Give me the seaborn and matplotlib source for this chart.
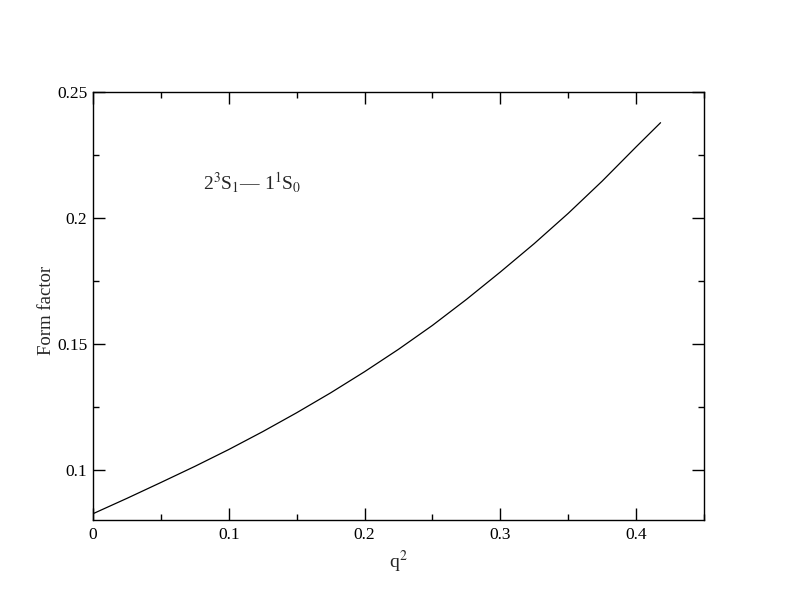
import numpy as np
import pandas as pd
import matplotlib
matplotlib.use("Agg")
import matplotlib.pyplot as plt
import seaborn as sns
from matplotlib.ticker import MultipleLocator, FuncFormatter

# -----------------------------
# Data
# -----------------------------

q2 = [0.0, 0.025, 0.05, 0.075, 0.1, 0.125, 0.15, 0.175, 0.2, 0.225,
      0.25, 0.275, 0.3, 0.325, 0.35, 0.375, 0.4, 0.418]
form_factor = [0.0825, 0.0886, 0.0949, 0.1013, 0.1080, 0.1151, 0.1226, 0.1305, 0.1389, 0.1478,
               0.1573, 0.1676, 0.1785, 0.1898, 0.2018, 0.2146, 0.2282, 0.2378]

df = pd.DataFrame({"q2": q2, "ff": form_factor})

# -----------------------------
# Style
# -----------------------------

sns.set_style("ticks")
plt.rcParams['font.family'] = ['Liberation Serif', 'DejaVu Serif']
plt.rcParams['mathtext.fontset'] = 'stix'

fig = plt.figure(figsize=(7.92, 6.12), dpi=100)
ax = fig.add_axes([0.1174, 0.1503, 0.7715, 0.6994])

sns.lineplot(data=df, x="q2", y="ff", color="black", linewidth=0.9, ax=ax)

ax.set_xlim(0, 0.45)
ax.set_ylim(0.08, 0.25)

ax.xaxis.set_major_locator(MultipleLocator(0.1))
ax.xaxis.set_minor_locator(MultipleLocator(0.05))
ax.yaxis.set_major_locator(MultipleLocator(0.05))
ax.yaxis.set_minor_locator(MultipleLocator(0.025))
ax.xaxis.set_major_formatter(FuncFormatter(lambda v, p: "0" if abs(v) < 1e-9 else f"{v:g}"))
ax.yaxis.set_major_formatter(FuncFormatter(lambda v, p: f"{v:g}"))

ax.tick_params(which="both", direction="in", top=True, right=True, colors="black",
               width=1, labelsize=12.5)
ax.tick_params(axis="x", pad=5)
ax.tick_params(axis="y", pad=4)
ax.tick_params(which="major", length=8.5)
ax.tick_params(which="minor", length=4.3)

for s in ax.spines.values():
    s.set_linewidth(1)
    s.set_color("black")

# -----------------------------
# Labels
# -----------------------------

ax.set_xlabel("q$^2$", fontsize=14, labelpad=4)
ax.set_ylabel("Form factor", fontsize=13.5, labelpad=6)
ax.yaxis.set_label_coords(-0.062, 0.49)

ax.text(0.18, 0.771, "2$^3$S$_1$\u2014 1$^1$S$_0$", transform=ax.transAxes,
        fontsize=14, ha="left", va="baseline")

fig.savefig("out.png", dpi=100)
